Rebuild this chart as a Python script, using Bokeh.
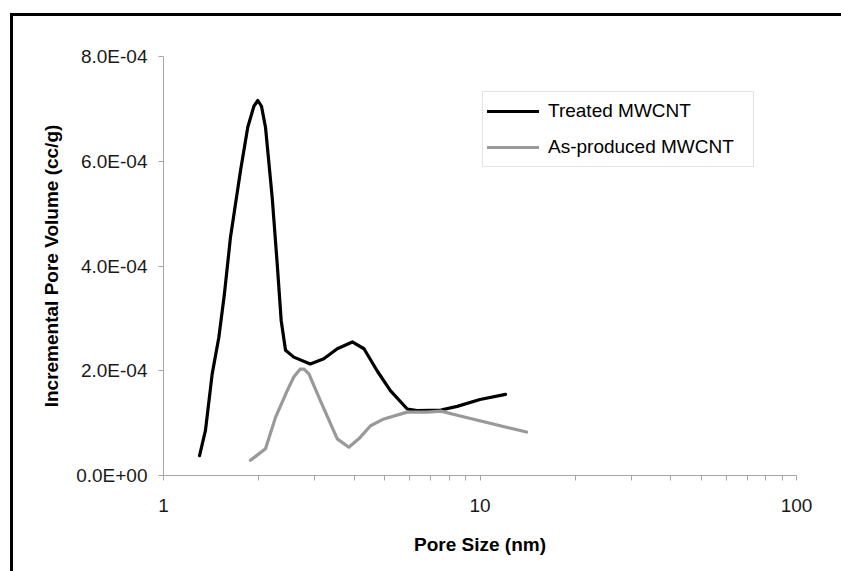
from bokeh.plotting import figure
from bokeh.models import Range1d, FixedTicker, CustomJSTickFormatter, Legend, LegendItem
from bokeh.embed import file_html
from bokeh.resources import INLINE

# Treated MWCNT
treated_x = [1.30, 1.357, 1.425, 1.496, 1.558, 1.628, 1.751, 1.846, 1.93, 1.986, 2.04, 2.10,
             2.205, 2.287, 2.354, 2.43, 2.58, 2.91, 3.21, 3.54, 3.95, 4.30, 4.73, 5.21, 5.89,
             6.33, 7.52, 8.47, 10.0, 12.04]
treated_y = [3.8e-5, 8.6e-5, 1.94e-4, 2.64e-4, 3.47e-4, 4.55e-4, 5.82e-4, 6.65e-4, 7.05e-4,
             7.16e-4, 7.05e-4, 6.65e-4, 5.31e-4, 4.04e-4, 2.96e-4, 2.39e-4, 2.26e-4, 2.13e-4,
             2.23e-4, 2.42e-4, 2.55e-4, 2.42e-4, 2.0e-4, 1.62e-4, 1.27e-4, 1.24e-4, 1.25e-4,
             1.32e-4, 1.45e-4, 1.55e-4]

# As-produced MWCNT
asprod_x = [1.883, 2.10, 2.259, 2.46, 2.58, 2.70, 2.78, 2.88, 3.13, 3.54, 3.85, 4.14, 4.51,
            4.97, 5.89, 6.81, 7.52, 8.47, 14.03]
asprod_y = [2.9e-5, 5.1e-5, 1.11e-4, 1.62e-4, 1.88e-4, 2.03e-4, 2.03e-4, 1.94e-4, 1.43e-4,
            7.0e-5, 5.4e-5, 7.0e-5, 9.5e-5, 1.08e-4, 1.21e-4, 1.21e-4, 1.23e-4, 1.15e-4, 8.3e-5]

x_ticks = [1, 10, 100]
x_minor = [2, 3, 4, 5, 6, 7, 8, 9, 20, 30, 40, 50, 60, 70, 80, 90]
y_ticks = [0, 2e-4, 4e-4, 6e-4, 8e-4]

FONT = "Liberation Sans"

p = figure(width=828, height=555, x_axis_type="log",
           x_range=Range1d(1, 100), y_range=Range1d(0, 8e-4),
           output_backend="svg", toolbar_location=None,
           min_border_left=150, min_border_top=40, min_border_right=45, min_border_bottom=96,
           styles={"margin-left": "10px", "margin-top": "13px",
                   "border-left": "3px solid black", "border-top": "3px solid black"})
p.frame_width = 633
p.frame_height = 419
p.outline_line_color = None
p.xgrid.grid_line_color = None
p.ygrid.grid_line_color = None
p.background_fill_color = "white"
p.border_fill_color = "white"

AX = "#a6a6a6"
for ax in (p.xaxis[0], p.yaxis[0]):
    ax.axis_line_color = AX
    ax.axis_line_width = 1
    ax.major_tick_line_color = AX
    ax.minor_tick_line_color = AX
    ax.major_tick_in = 0
    ax.major_tick_out = 5
    ax.minor_tick_in = 0
    ax.minor_tick_out = 5
    ax.major_label_text_font = FONT
    ax.major_label_text_font_size = "19px"
    ax.major_label_text_color = "#1a1a1a"
    ax.axis_label_text_font = FONT
    ax.axis_label_text_font_size = "19px"
    ax.axis_label_text_font_style = "bold"
    ax.axis_label_text_color = "black"

p.xaxis.ticker = FixedTicker(ticks=x_ticks, minor_ticks=x_minor)
p.xaxis.major_label_overrides = {1: "1", 10: "10", 100: "100"}
p.xaxis.major_label_standoff = 18
p.xaxis.axis_label = "Pore Size (nm)"
p.xaxis.axis_label_standoff = 19

p.yaxis.ticker = FixedTicker(ticks=y_ticks, minor_ticks=[])
p.yaxis.formatter = CustomJSTickFormatter(code="""
    const s = tick.toExponential(1);
    const parts = s.split('e');
    const e = parseInt(parts[1]);
    const sign = e < 0 ? '-' : '+';
    return parts[0] + 'E' + sign + String(Math.abs(e)).padStart(2, '0');
""")
p.yaxis.major_label_standoff = 11
p.yaxis.axis_label = "Incremental Pore Volume (cc/g)"
p.yaxis.axis_label_standoff = 11

r_t = p.line(treated_x, treated_y, line_color="black", line_width=3.2, line_join="round", line_cap="round")
r_a = p.line(asprod_x, asprod_y, line_color="#999999", line_width=3.2, line_join="round", line_cap="round")

legend = Legend(items=[LegendItem(label="Treated MWCNT", renderers=[r_t]),
                       LegendItem(label="As-produced MWCNT", renderers=[r_a])],
                location=(319, 308))
legend.label_text_font = FONT
legend.label_text_font_size = "19px"
legend.label_text_color = "black"
legend.glyph_width = 52
legend.glyph_height = 30
legend.label_height = 30
legend.label_width = 201
legend.label_standoff = 9
legend.spacing = 6
legend.padding = 4
legend.margin = 0
legend.border_line_color = "#c8c8c8"
legend.border_line_width = 1.5
legend.background_fill_alpha = 1
p.add_layout(legend, "center")

open("out.html", "w").write(file_html(p, INLINE))
